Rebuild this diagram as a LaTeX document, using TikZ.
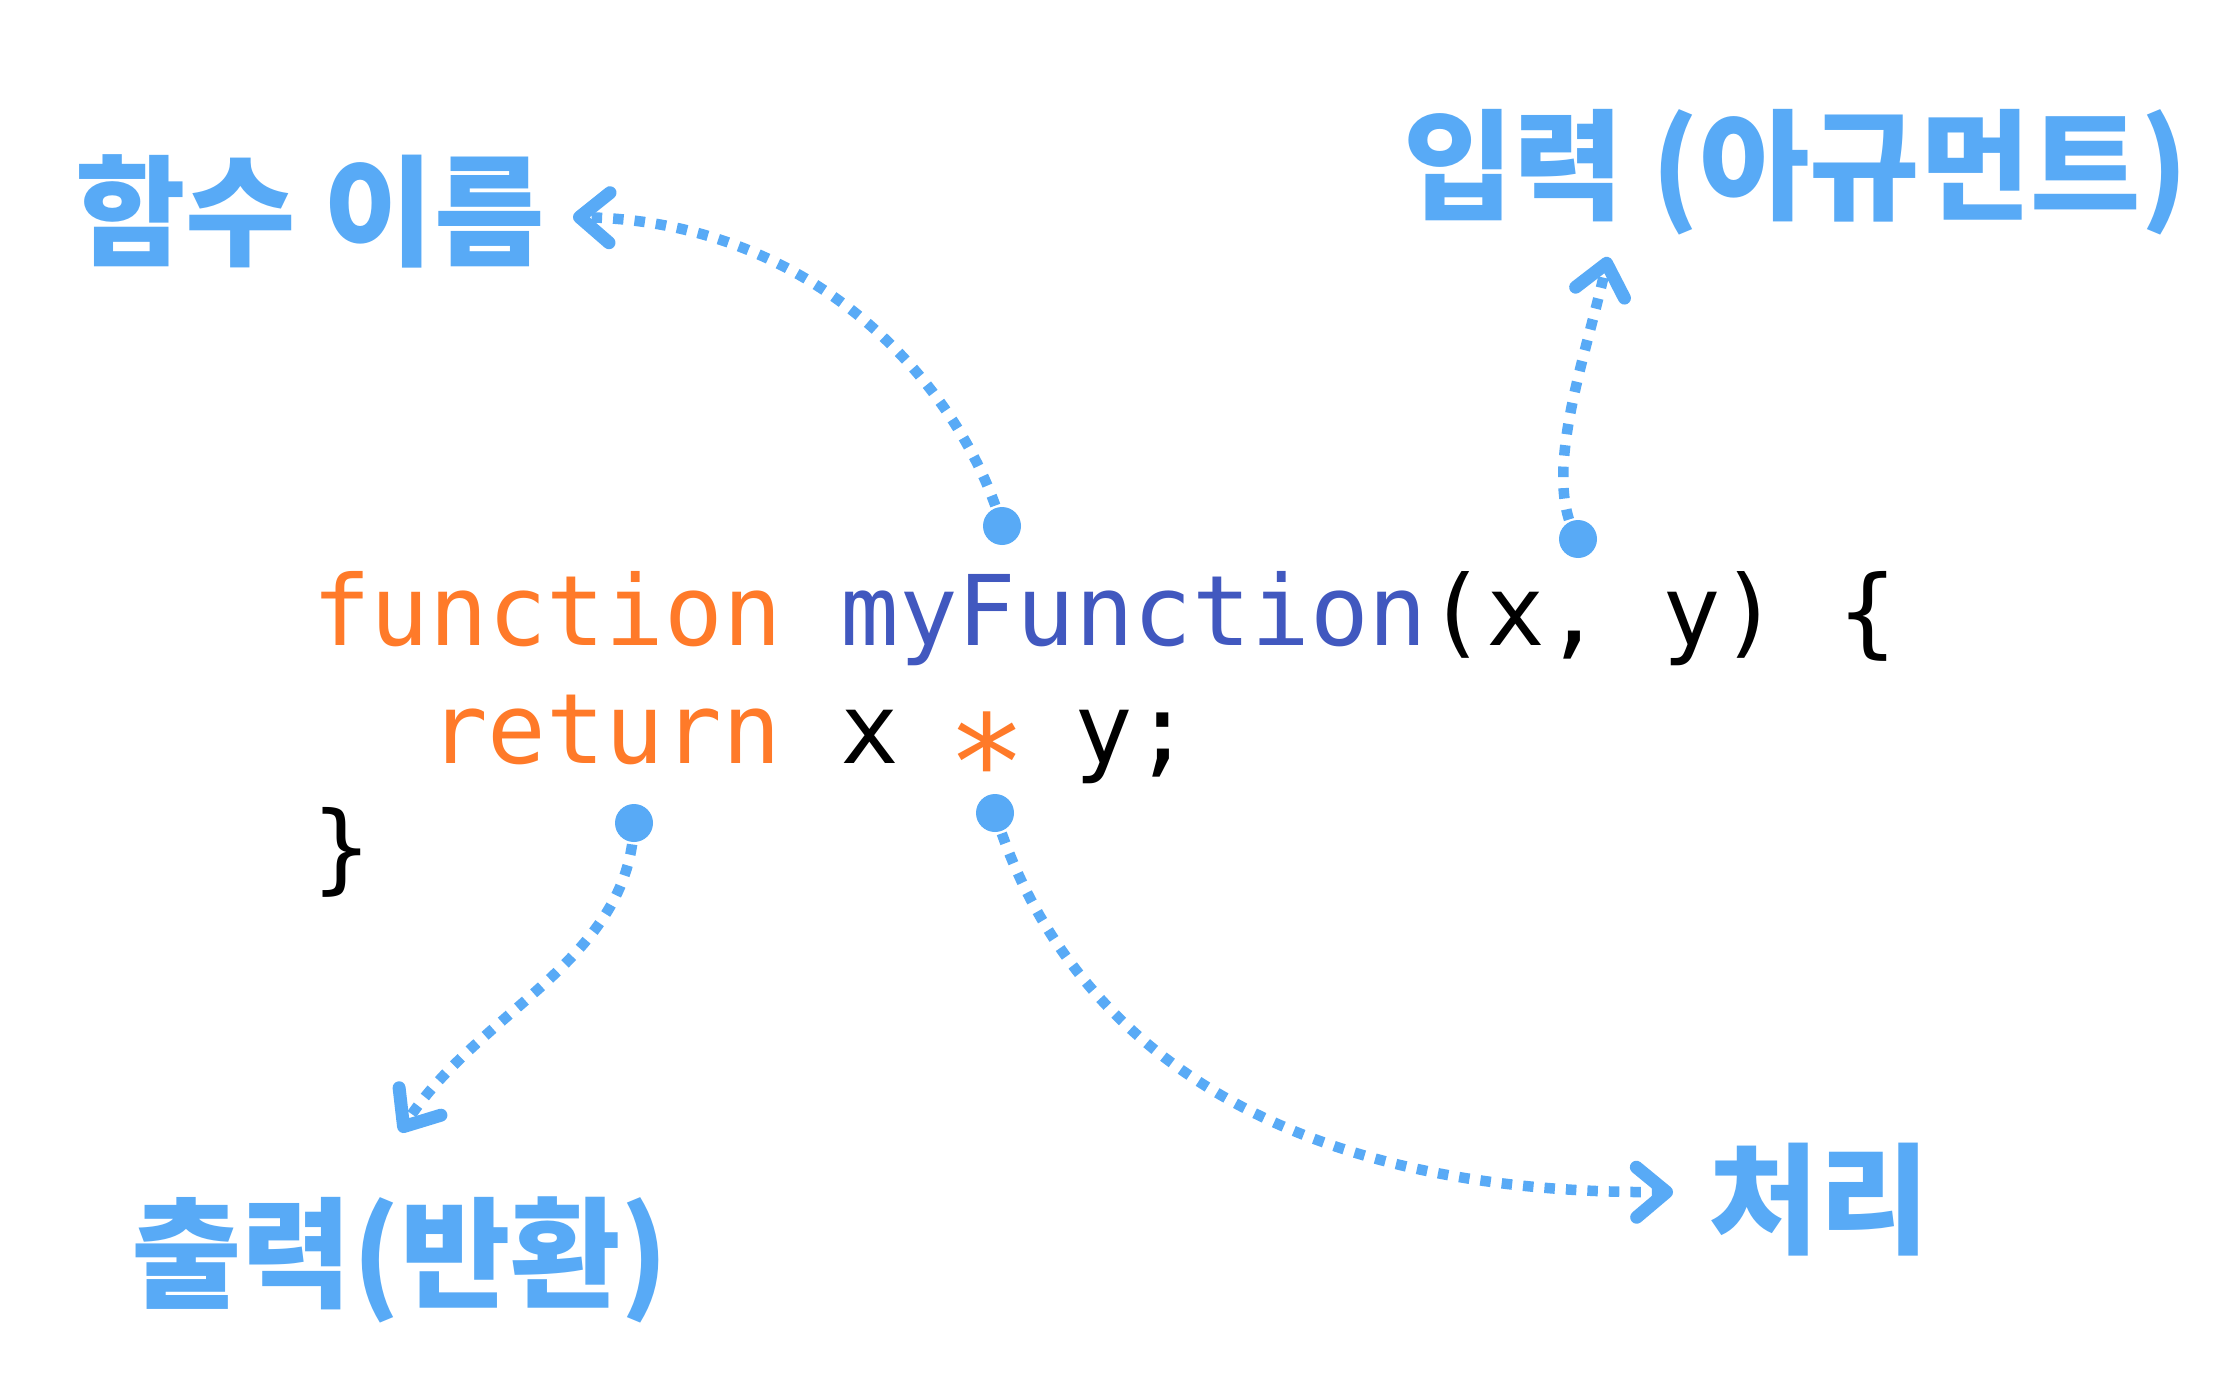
\documentclass[tikz,border=0pt]{standalone}
\usepackage{fontspec}
\usepackage{graphicx}
\setmonofont{DejaVu Sans Mono}
\newfontfamily\krfont{Noto Sans CJK KR}
\usetikzlibrary{arrows.meta}
\definecolor{anno}{HTML}{58AAF6}
\definecolor{kw}{HTML}{FF7A29}
\definecolor{fn}{HTML}{4158BF}
\newcommand{\codestar}{\makebox[0.602em]{\raisebox{-0.48em}{\scalebox{1.35}{*}}}}
\begin{document}
\begin{tikzpicture}[x=1pt,y=-1pt,
  label/.style={text=anno, font=\krfont\bfseries\fontsize{120}{120}\selectfont, inner sep=0pt},
  codeline/.style={font=\ttfamily\fontsize{97.5}{118}\selectfont, inner sep=0pt, anchor=base west},
  dot/.style={circle, fill=anno, minimum size=38pt, inner sep=0pt},
  conn/.style={draw=anno, line width=10.5pt, dash pattern=on 10.5pt off 11pt,
    -{Straight Barb[length=30pt,width=50pt,line width=13pt,round]}}]
\useasboundingbox (0,0) rectangle (2238,1396);
\fill[white] (0,0) rectangle (2238,1396);

% code
\node[codeline] (l1) at (312,645) {\textcolor{kw}{function} \textcolor{fn}{myFunction}(x, y) \{};
\node[codeline] (l2) at (429,763) {\textcolor{kw}{return} x \textcolor{kw}{\codestar} y;};
\node[codeline] (l3) at (312,881) {\}};

% labels
\node[label] (name) at (310,211) {함수 이름};
\node[label] (input) at (1796,172) {입력 (아규먼트)};
\node[label] (output) at (400,1260) {출력(반환)};
\node[label] (proc) at (1819,1200) {처리};

% dots
\node[dot] (d1) at (1002,526) {};
\node[dot] (d2) at (1578,539) {};
\node[dot] (d3) at (634,823) {};
\node[dot] (d4) at (995,813) {};

% arrow ends
\coordinate (t1) at (573,217);
\coordinate (t2) at (1608,257);
\coordinate (t3) at (400,1132);
\coordinate (t4) at (1673,1192);

% connectors
\draw[conn] (d1.center) .. controls (962,390) and (820,222) .. (t1);
\draw[conn] (d2.center) .. controls (1540,480) and (1585,360) .. (t2);
\draw[conn] (d3.center) .. controls (630,960) and (480,1010) .. (t3);
\draw[conn] (d4.center) .. controls (1045,975) and (1200,1195) .. (t4);
\end{tikzpicture}
\end{document}
